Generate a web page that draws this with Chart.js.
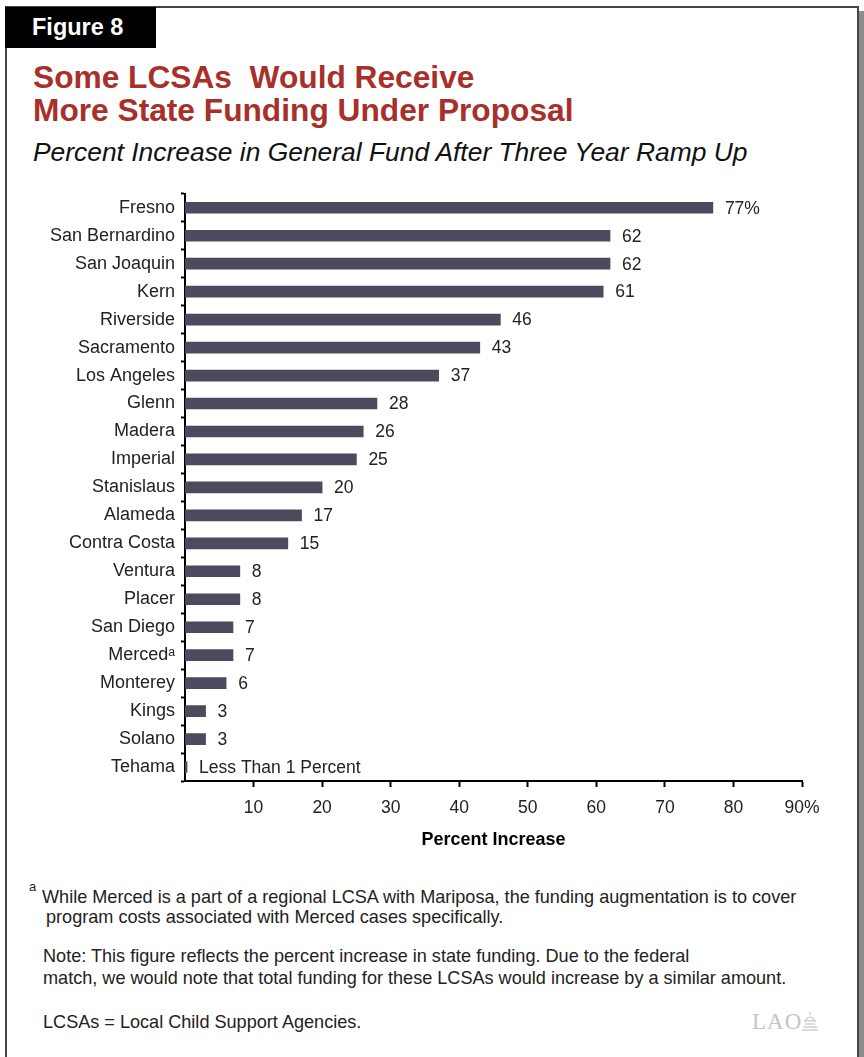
<!DOCTYPE html>
<html>
<head>
<meta charset="utf-8">
<title>LCSA funding increase</title>
<script src="https://cdn.jsdelivr.net/npm/chart.js@4.4.0/dist/chart.umd.min.js"></script>
<style>
  html, body { margin: 0; padding: 0; background: #fff; }
  body {
    width: 864px; height: 1057px; position: relative; overflow: hidden;
    font-family: "Liberation Sans", Arial, Helvetica, sans-serif; color: #222;
  }
  .frame {
    position: absolute; left: 5px; top: 6px; width: 850px; height: 1100px;
    border: 2px solid #444; box-shadow: 5px 5px 0 #8c8c8c;
  }
  .fig {
    position: absolute; left: 5px; top: 7px; width: 151px; height: 41px;
    background: #000; color: #fff; font-weight: bold; font-size: 23.5px;
    line-height: 41px; padding-left: 27px; box-sizing: border-box;
  }
  .title {
    position: absolute; left: 33px; top: 61px; color: #a8302a;
    font-weight: bold; font-size: 31.7px; line-height: 33px;
  }
  .subtitle {
    position: absolute; left: 33px; top: 137px; color: #111;
    font-style: italic; font-size: 26.4px; line-height: 30px;
  }
  #chartBox { position: absolute; left: 0; top: 177px; width: 864px; height: 683px; }
  .note { position: absolute; font-size: 18.1px; line-height: 22px; color: #222; white-space: nowrap; }
  .sup { position: absolute; left: 29px; top: 879px; font-size: 13px; color: #222; }
  .lao {
    position: absolute; left: 752px; top: 1010px; font-family: "Liberation Serif", "DejaVu Serif", serif;
    font-size: 23px; line-height: 24px; color: #c4c4c4; letter-spacing: 1px;
  }
  .lao svg { vertical-align: -2px; margin-left: -1px; }
</style>
</head>
<body>
<div class="frame"></div>
<div class="fig">Figure 8</div>
<div class="title">Some LCSAs&nbsp; Would Receive<br>More State Funding Under Proposal</div>
<div class="subtitle">Percent Increase in General Fund After Three Year Ramp Up</div>

<div id="chartBox"><canvas id="increaseChart"></canvas></div>

<div class="sup">a</div>
<div class="note" style="left:42px; top:886px;">While Merced is a part of a regional LCSA with Mariposa, the funding augmentation is to cover</div>
<div class="note" style="left:46px; top:906px;">program costs associated with Merced cases specifically.</div>
<div class="note" style="left:43px; top:945px;">Note: This figure reflects the percent increase in state funding. Due to the federal</div>
<div class="note" style="left:43px; top:967px;">match, we would note that total funding for these LCSAs would increase by a similar amount.</div>
<div class="note" style="left:43px; top:1011px;">LCSAs = Local Child Support Agencies.</div>
<div class="lao">LAO<svg width="18" height="20" viewBox="0 0 18 20">
  <g fill="none" stroke="#c4c4c4" stroke-width="1.2">
    <line x1="9" y1="1" x2="9" y2="4"/>
    <path d="M4 10 Q9 2 14 10"/>
    <line x1="3" y1="10" x2="15" y2="10"/>
    <line x1="4" y1="13" x2="14" y2="13"/>
    <line x1="2" y1="16" x2="16" y2="16"/>
    <line x1="1" y1="19" x2="17" y2="19"/>
  </g>
</svg></div>

<script>
document.addEventListener('DOMContentLoaded', function () {

// data
const counties = [
  'Fresno', 'San Bernardino', 'San Joaquin', 'Kern', 'Riverside', 'Sacramento',
  'Los Angeles', 'Glenn', 'Madera', 'Imperial', 'Stanislaus', 'Alameda',
  'Contra Costa', 'Ventura', 'Placer', 'San Diego', 'Merced\u1d43', 'Monterey',
  'Kings', 'Solano', 'Tehama'
];
const increases = [77, 62, 62, 61, 46, 43, 37, 28, 26, 25, 20, 17, 15, 8, 8, 7, 7, 6, 3, 3, 0.3];
const valueLabels = [
  '77%', '62', '62', '61', '46', '43', '37', '28', '26', '25', '20', '17', '15',
  '8', '8', '7', '7', '6', '3', '3', 'Less Than 1 Percent'
];
const xTickValues = [10, 20, 30, 40, 50, 60, 70, 80, 90];

const FONT = '"Liberation Sans", Arial, Helvetica, sans-serif';

// numbers next to each bar
const barValueLabels = {
  id: 'barValueLabels',
  afterDatasetsDraw(chart) {
    const ctx = chart.ctx;
    const meta = chart.getDatasetMeta(0);
    ctx.save();
    ctx.font = '17.5px ' + FONT;
    ctx.fillStyle = '#222';
    ctx.textBaseline = 'middle';
    ctx.textAlign = 'left';
    meta.data.forEach((bar, i) => {
      ctx.fillText(valueLabels[i], bar.x + 12, bar.y + 1);
    });
    ctx.restore();
  }
};

const ctx = document.getElementById('increaseChart').getContext('2d');

new Chart(ctx, {
  type: 'bar',
  data: {
    labels: counties,
    datasets: [{
      label: 'Percent Increase',
      data: increases,
      backgroundColor: '#4b4b5d',
      barThickness: 11
    }]
  },
  options: {
    indexAxis: 'y',
    responsive: true,
    maintainAspectRatio: false,
    animation: false,
    layout: { padding: { left: 0, right: 62, top: 10, bottom: 0 } },
    plugins: {
      legend: { display: false },
      tooltip: { enabled: false }
    },
    scales: {
      x: {
        type: 'linear',
        min: 0,
        max: 90,
        afterBuildTicks: (scale) => {
          scale.ticks = xTickValues.map(v => ({ value: v }));
        },
        afterFit: (scale) => { scale.height = 79; },
        ticks: {
          color: '#222',
          padding: 11,
          font: { family: FONT, size: 17.5 },
          callback: (v) => v === xTickValues[xTickValues.length - 1] ? v + '%' : v
        },
        grid: {
          drawOnChartArea: false,
          drawTicks: true,
          tickLength: 6,
          tickWidth: 2,
          tickColor: '#000'
        },
        border: { display: true, color: '#000', width: 2 },
        title: {
          display: true,
          text: 'Percent Increase',
          color: '#000',
          font: { family: FONT, size: 18, weight: 'bold' },
          padding: { top: 4, bottom: 9 }
        }
      },
      y: {
        afterFit: (scale) => { scale.width = 185; },
        ticks: {
          color: '#222',
          padding: 6,
          autoSkip: false,
          font: { family: FONT, size: 18 }
        },
        grid: {
          offset: true,
          drawOnChartArea: false,
          drawTicks: true,
          tickLength: 4,
          tickWidth: 2,
          tickColor: '#000'
        },
        border: { display: true, color: '#000', width: 2 }
      }
    }
  },
  plugins: [barValueLabels]
});

});
</script>
</body>
</html>
